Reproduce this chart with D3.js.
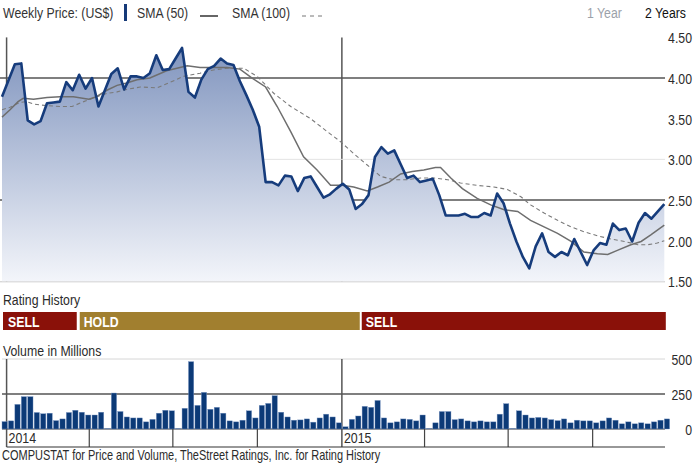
<!DOCTYPE html>
<html>
<head>
<meta charset="utf-8">
<script src="https://cdn.jsdelivr.net/npm/d3@7"></script>
<style>
html,body{margin:0;padding:0;background:#fff;}
svg{display:block;font-family:"Liberation Sans",Arial,sans-serif;}
</style>
</head>
<body>
<svg id="chart" width="700" height="463"></svg>
<script>
// ---------- DATA ----------
const firstWeek = "2013-12-27";
const lastWeek = "2015-12-18";
const weeklyPrice = [
 3.77,3.97,4.17,4.18,3.48,3.43,3.47,3.69,3.70,3.71,3.95,3.85,4.04,3.87,4.00,3.65,3.85,4.05,4.12,3.86,
 4.02,4.02,4.00,4.06,4.28,4.10,4.11,4.24,4.37,3.83,3.76,3.98,4.11,4.15,4.24,4.18,4.16,3.96,3.79,3.61,
 3.40,2.72,2.72,2.68,2.80,2.79,2.61,2.77,2.79,2.66,2.53,2.57,2.64,2.70,2.63,2.39,2.45,2.56,3.03,3.15,
 3.07,3.11,2.94,2.77,2.80,2.72,2.74,2.76,2.56,2.31,2.31,2.31,2.33,2.29,2.29,2.34,2.31,2.58,2.46,2.21,
 1.99,1.80,1.66,1.93,2.09,1.86,1.80,1.86,1.82,2.02,1.86,1.70,1.88,1.97,1.95,2.21,2.13,2.15,1.99,2.22,
 2.34,2.27,2.36,2.45
];
const weeklyVolume = [
 53,58,176,231,231,118,109,113,60,72,118,134,120,100,100,120,3,257,125,86,
 79,79,51,69,113,134,130,3,148,481,169,262,141,155,113,58,51,63,130,79,
 169,183,238,120,86,63,65,72,49,79,106,86,44,16,69,93,162,155,204,79,
 44,51,72,69,58,100,3,44,125,125,67,72,58,51,58,51,51,106,181,3,
 130,100,79,83,79,67,60,72,44,63,58,58,44,58,79,63,37,51,37,44,
 37,51,63,72
];
// moving averages read at selected week positions (week index from first week)
const sma50Week = [0,1.25,2.5,3.3,4.9,7,9,11.1,13.5,14.7,16.3,17.9,19.4,21,23,25.6,28.8,30.8,33,35,37,38.9,41,42.8,44.9,46.9,49,51.1,52.9,54.7,56.8,58.4,60.2,62,63.8,65.6,67.4,68.2,69.8,71.6,73.9,76,78.1,80.2,82.2,84.3,86.4,88.5,90.5,92.6,94.2,95.7,97.8,99.4,100.9,103];
const sma50Value = [3.52,3.61,3.71,3.75,3.74,3.76,3.77,3.77,3.74,3.77,3.85,3.91,3.94,3.98,4.00,4.09,4.15,4.13,4.13,4.13,4.11,4.00,3.89,3.65,3.34,3.03,2.87,2.68,2.68,2.66,2.61,2.66,2.72,2.82,2.85,2.87,2.90,2.90,2.77,2.64,2.52,2.44,2.38,2.36,2.25,2.17,2.09,1.99,1.86,1.84,1.83,1.88,1.95,1.99,2.07,2.19];
const sma100Week = [0,1.25,2.8,3.8,4.9,7,9,10.9,12.7,14.7,16.3,17.9,19.4,21.5,24.1,26.2,28.2,30.8,32.9,35,37.6,39.7,42.3,44.9,48,50.6,52.6,54.7,56.8,58.9,60.9,63,65.1,67.2,69.3,71.3,73.9,76.5,78.6,80.7,82.2,84.3,86.4,88.5,90.5,92.6,94.7,96.8,98.9,100.4,101.9,103];
const sma100Value = [3.61,3.64,3.70,3.71,3.68,3.66,3.65,3.65,3.71,3.77,3.81,3.83,3.86,3.89,3.88,3.95,4.02,4.06,4.10,4.12,4.12,4.02,3.81,3.65,3.50,3.34,3.22,3.07,2.93,2.79,2.75,2.75,2.77,2.77,2.75,2.71,2.68,2.66,2.63,2.54,2.44,2.34,2.25,2.17,2.11,2.06,2.02,1.99,1.95,1.95,1.97,2.00];
const priceTicks = [1.5,2.0,2.5,3.0,3.5,4.0,4.5];
const priceStrongLines = [4.0,2.5];
const priceLightLines = [3.0];
const volumeTicks = [0,250,500];
const ratingLabels = ["SELL","HOLD","SELL"];
const ratingStarts = ["2013-12-27","2014-03-20","2015-01-21"];
const ratingEnds = ["2014-03-20","2015-01-21","2015-12-18"];
const ratingColors = {"SELL":"#8a1109","HOLD":"#a17f2f"};
const yearLabels = ["2014","2015"];

// ---------- SCALES ----------
const parse = d3.timeParse("%Y-%m-%d");
const L = 2, R = 664.3;
const xw = d3.scaleLinear().domain([0, weeklyPrice.length - 1]).range([L, R]);
const xt = d3.scaleTime().domain([parse(firstWeek), parse(lastWeek)]).range([L, R]);
const yP = d3.scaleLinear().domain([1.5, 4.5]).range([281.3, 37.4]);
const yV = d3.scaleLinear().domain([0, 500]).range([429, 359]);
const plotRight = 665;

const svg = d3.select("#chart");
const ink = "#2b2b2b";
const SX = 0.82;

// condensed text helper
function ntext(parent, x, y, str, size, opts = {}) {
  const g = parent.append("g").attr("transform", `translate(${x},${y}) scale(${opts.sx || SX},1)`);
  const t = g.append("text").attr("x", 0).attr("y", 0).attr("font-size", size)
    .attr("fill", opts.fill || ink).text(str);
  if (opts.weight) t.attr("font-weight", opts.weight);
  if (opts.anchor) t.attr("text-anchor", opts.anchor);
  return t;
}

// ---------- HEADER / LEGEND ----------
ntext(svg, 3, 18, "Weekly Price: (US$)", 15, {fill: "#333"});
svg.append("rect").attr("x", 124).attr("y", 4).attr("width", 3).attr("height", 17).attr("fill", "#163a78");
ntext(svg, 137, 18, "SMA (50)", 15, {fill: "#333"});
svg.append("line").attr("x1", 200).attr("x2", 218).attr("y1", 16).attr("y2", 16).attr("stroke", "#333").attr("stroke-width", 1.5);
ntext(svg, 232, 18, "SMA (100)", 15, {fill: "#333"});
svg.append("line").attr("x1", 302).attr("x2", 326).attr("y1", 16).attr("y2", 16).attr("stroke", "#777").attr("stroke-width", 1).attr("stroke-dasharray", "4,4");
ntext(svg, 587, 18, "1 Year", 15, {fill: "#9ba1a9"});
ntext(svg, 645, 18, "2 Years", 15, {fill: "#111"});

// ---------- PRICE PANEL ----------
const gP = svg.append("g");
const defs = svg.append("defs");
const grad = defs.append("linearGradient").attr("id", "fillGrad").attr("gradientUnits", "userSpaceOnUse")
  .attr("x1", 0).attr("x2", 0).attr("y1", yP(4.5)).attr("y2", yP(1.5));
grad.append("stop").attr("offset", 0).attr("stop-color", "#7c91bc");
grad.append("stop").attr("offset", 1).attr("stop-color", "#f3f5fa");

// year boundaries
const yearDates = d3.timeYear.range(parse(firstWeek), parse(lastWeek));
gP.selectAll(".yl").data(yearDates).enter().append("line")
  .attr("x1", d => xt(d)).attr("x2", d => xt(d)).attr("y1", yP(4.5)).attr("y2", yP(1.5))
  .attr("stroke", "#555").attr("stroke-width", 1.5);
// gridlines
gP.selectAll(".gl").data(priceLightLines).enter().append("line")
  .attr("x1", L).attr("x2", plotRight).attr("y1", d => yP(d)).attr("y2", d => yP(d))
  .attr("stroke", "#e3e3e3").attr("stroke-width", 1);
gP.selectAll(".gs").data(priceStrongLines).enter().append("line")
  .attr("x1", 0).attr("x2", plotRight).attr("y1", d => yP(d)).attr("y2", d => yP(d))
  .attr("stroke", "#555").attr("stroke-width", 1.5);
gP.append("line").attr("x1", 0).attr("x2", plotRight).attr("y1", yP(1.5)+0.5).attr("y2", yP(1.5)+0.5)
  .attr("stroke", "#c8c8c8").attr("stroke-width", 1);

// area
gP.append("path").datum(weeklyPrice)
  .attr("d", d3.area().x((d, i) => xw(i)).y0(yP(1.5)).y1(d => yP(d)))
  .attr("fill", "url(#fillGrad)");
// SMA lines
const smaLine = d3.line().x(d => xw(d[0])).y(d => yP(d[1]));
gP.append("path").datum(sma100Week.map((w, i) => [w, sma100Value[i]]))
  .attr("d", smaLine).attr("fill", "none").attr("stroke", "#7a7a7a").attr("stroke-width", 1.1).attr("stroke-dasharray", "4,3");
gP.append("path").datum(sma50Week.map((w, i) => [w, sma50Value[i]]))
  .attr("d", smaLine).attr("fill", "none").attr("stroke", "#6e6e6e").attr("stroke-width", 1.5);
// price line
gP.append("path").datum(weeklyPrice)
  .attr("d", d3.line().x((d, i) => xw(i)).y(d => yP(d)))
  .attr("fill", "none").attr("stroke", "#163c7c").attr("stroke-width", 2.6).attr("stroke-linejoin", "round");

// price axis labels
const axP = svg.append("g").attr("transform", `translate(692,0)`)
  .call(d3.axisRight(yP).tickValues(priceTicks).tickFormat(d3.format(".2f")).tickSize(0).tickPadding(0));
axP.select(".domain").remove();
axP.selectAll("text").attr("text-anchor", "end").attr("font-size", 15).attr("fill", ink)
  .attr("font-family", null).attr("dy", "0.36em").attr("transform", `scale(${SX},1)`);

// ---------- RATING HISTORY ----------
ntext(svg, 3, 305, "Rating History", 15);
const rat = svg.append("g").selectAll("g").data(ratingLabels).enter().append("g");
rat.append("rect")
  .attr("x", (d, i) => xt(parse(ratingStarts[i])) + (i === 0 ? 1 : 1.5))
  .attr("y", 312).attr("height", 18)
  .attr("width", (d, i) => xt(parse(ratingEnds[i])) - xt(parse(ratingStarts[i])) - (i === 0 ? 2.5 : 2) + (i === ratingLabels.length - 1 ? 2 : 0))
  .attr("fill", d => ratingColors[d]);
rat.each(function(d, i) {
  ntext(d3.select(this), xt(parse(ratingStarts[i])) + (i === 0 ? 6 : 5.5), 327, d, 15, {fill: "#fff", weight: "bold"});
});

// ---------- VOLUME ----------
ntext(svg, 3, 356, "Volume in Millions", 15);
const gV = svg.append("g");
gV.append("line").attr("x1", L).attr("x2", plotRight).attr("y1", yV(500)).attr("y2", yV(500)).attr("stroke", "#d6d6d6");
gV.append("line").attr("x1", L).attr("x2", plotRight).attr("y1", yV(250)).attr("y2", yV(250)).attr("stroke", "#555").attr("stroke-width", 1.5);
gV.selectAll(".vy").data(yearDates).enter().append("line")
  .attr("x1", d => xt(d)).attr("x2", d => xt(d)).attr("y1", yV(500)).attr("y2", 447)
  .attr("stroke", "#555").attr("stroke-width", 1.5);
gV.append("line").attr("x1", L).attr("x2", plotRight).attr("y1", yV(0)).attr("y2", yV(0)).attr("stroke", "#333").attr("stroke-width", 1.2);
gV.selectAll("rect").data(weeklyVolume).enter().append("rect")
  .attr("x", (d, i) => xw(i)).attr("width", 5.3)
  .attr("y", d => yV(d)).attr("height", d => yV(0) - yV(d))
  .attr("fill", "#0c3a77").attr("stroke", "#7d98c4").attr("stroke-width", 0.4);
// time axis
const quarterDates = d3.timeMonth.every(3).range(parse(firstWeek), parse(lastWeek)).filter(d => d.getMonth() !== 0);
gV.selectAll(".qt").data(quarterDates).enter().append("line")
  .attr("x1", d => xt(d)).attr("x2", d => xt(d)).attr("y1", yV(0)).attr("y2", 447)
  .attr("stroke", "#444").attr("stroke-width", 1.2);
gV.append("line").attr("x1", xt(yearDates[0])).attr("x2", plotRight).attr("y1", 447).attr("y2", 447).attr("stroke", "#333").attr("stroke-width", 1.2);
yearDates.forEach((d, i) => ntext(gV, xt(d) + 2, 442.5, yearLabels[i], 15.5, {sx: 0.8}));
const axV = svg.append("g").attr("transform", `translate(692,0)`)
  .call(d3.axisRight(yV).tickValues(volumeTicks).tickFormat(d3.format("d")).tickSize(0).tickPadding(0));
axV.select(".domain").remove();
axV.selectAll("text").attr("text-anchor", "end").attr("font-size", 15).attr("fill", ink)
  .attr("font-family", null).attr("dy", "0.36em").attr("transform", `scale(${SX},1)`);

// ---------- FOOTER ----------
ntext(svg, 2, 459.5, "COMPUSTAT for Price and Volume, TheStreet Ratings, Inc. for Rating History", 14, {sx: 0.785});
</script>
</body>
</html>
